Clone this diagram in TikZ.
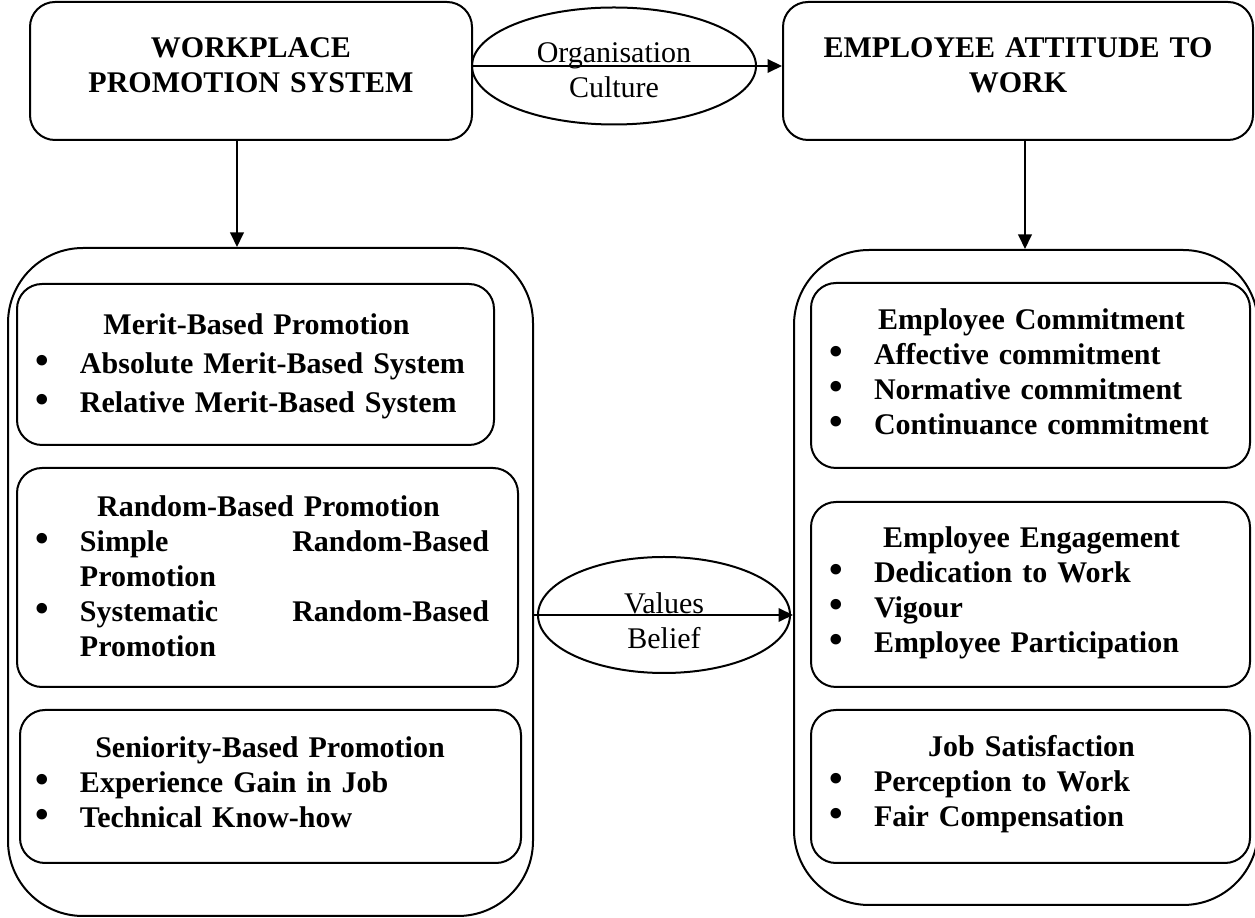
\documentclass[tikz,border=0pt]{standalone}
\usepackage{fontspec}
\setmainfont{Liberation Serif}
\usetikzlibrary{positioning, arrows.meta, shapes.geometric, fit}

\newcommand{\hd}[1]{\makebox[\hsize]{#1}}
\newcommand{\itm}{\makebox[24.8pt][l]{\hspace*{7pt}{\fontsize{15.5}{14}\selectfont\textbullet}}}
\newcommand{\wrapped}{\hspace*{24.8pt}}

\begin{document}
\begin{tikzpicture}[x=0.4pt,y=-0.4pt,->,>={Triangle[length=5.8pt,width=5.4pt]},line width=0.8pt,
    box/.style={draw,rounded corners=10pt,inner sep=0pt},
    bigbox/.style={draw,rounded corners=30pt,inner sep=0pt},
    oval/.style={draw,ellipse,inner sep=0pt},
    toptext/.style={font=\bfseries\fontsize{12}{14}\selectfont,align=center,inner sep=0pt,anchor=base},
    listtext/.style={font=\bfseries\fontsize{12}{14}\selectfont,align=left,inner sep=0pt,anchor=base west},
    ovaltext/.style={font=\fontsize{12}{14}\selectfont,align=center,inner sep=0pt,anchor=base,text width=100pt}]
    \useasboundingbox (0,0) rectangle (1255,918);

    \node[box,fit={(30,2) (472,140)}] (wps) {};
    \node[box,fit={(783,2) (1253,140)}] (eat) {};
    \node[oval,minimum width=113.6pt,minimum height=46.8pt] (oc) at (614,66) {};
    \node[oval,minimum width=100.8pt,minimum height=46.4pt] (vb) at (664,615) {};

    \node[bigbox,fit={(8,248) (533,916)}] (lcon) {};
    \node[bigbox,fit={(794,250) (1258,905)}] (rcon) {};

    \node[box,fit={(17,284) (494,445)}] (merit) {};
    \node[box,fit={(17,468) (518,687)}] (random) {};
    \node[box,fit={(20,710) (521,863)}] (senior) {};
    \node[box,fit={(811,283) (1250,468)}] (commit) {};
    \node[box,fit={(811,502) (1250,687)}] (engage) {};
    \node[box,fit={(811,710) (1250,863)}] (satisf) {};

    \node[toptext,text width=170pt] at (251,58) {WORKPLACE\\PROMOTION SYSTEM};
    \node[toptext,text width=180pt] at (1018,58) {EMPLOYEE ATTITUDE TO\\WORK};
    \node[ovaltext] at (614,63) {Organisation\\Culture};
    \node[ovaltext] at (664,614) {Values\\Belief};

    \node[listtext,text width=190.8pt,font=\bfseries\fontsize{12}{15.6}\selectfont] at (17,335)
        {\hd{Merit-Based Promotion}\\
         \itm Absolute Merit-Based System\\
         \itm Relative Merit-Based System};
    \node[listtext,text width=200.4pt] at (17,517)
        {\hd{Random-Based Promotion}\\
         \itm\makebox[163.6pt][l]{Simple\hfill Random-Based}\\
         \wrapped Promotion\\
         \itm\makebox[163.6pt][l]{Systematic\hfill Random-Based}\\
         \wrapped Promotion};
    \node[listtext,text width=201.6pt] at (17,758)
        {\hd{Seniority-Based Promotion}\\
         \itm Experience Gain in Job\\
         \itm Technical Know-how};
    \node[listtext,text width=175.6pt] at (811,330)
        {\hd{Employee Commitment}\\
         \itm Affective commitment\\
         \itm Normative commitment\\
         \itm Continuance commitment};
    \node[listtext,text width=175.6pt] at (811,548)
        {\hd{Employee Engagement}\\
         \itm Dedication to Work\\
         \itm Vigour\\
         \itm Employee Participation};
    \node[listtext,text width=175.6pt] at (811,757)
        {\hd{Job Satisfaction}\\
         \itm Perception to Work\\
         \itm Fair Compensation};

    \draw (wps.east |- oc.center) -- (eat.west |- oc.center);
    \draw ([xshift=-5.6pt]wps.south) -- ([xshift=-5.6pt]wps.south |- lcon.north);
    \draw ([xshift=2.8pt]eat.south) -- ([xshift=2.8pt]eat.south |- rcon.north);
    \draw (lcon.east |- vb.center) -- (rcon.west |- vb.center);
\end{tikzpicture}
\end{document}
